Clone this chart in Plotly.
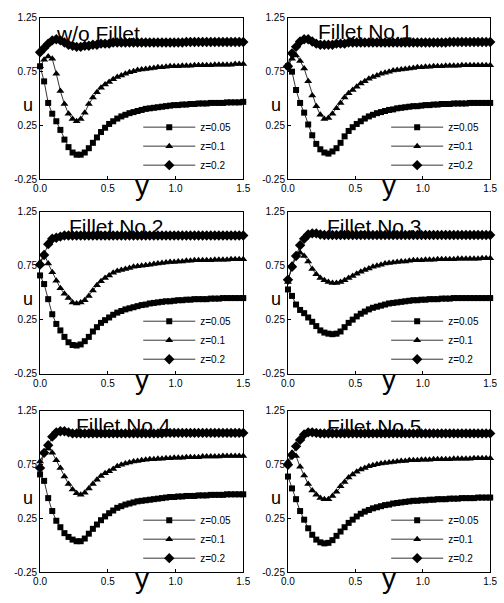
import plotly.graph_objects as go

# ---------------- data ----------------
y_grid = [0.00, 0.03, 0.06, 0.09, 0.12, 0.15, 0.18, 0.21, 0.24, 0.27,
          0.30, 0.33, 0.36, 0.39, 0.42, 0.45, 0.48, 0.51, 0.54, 0.57,
          0.60, 0.63, 0.66, 0.69, 0.72, 0.75, 0.78, 0.81, 0.84, 0.87,
          0.90, 0.93, 0.96, 0.99, 1.02, 1.05, 1.08, 1.11, 1.14, 1.17,
          1.20, 1.23, 1.26, 1.29, 1.32, 1.35, 1.38, 1.41, 1.44, 1.47, 1.50]

panel_titles = ["w/o Fillet", "Fillet No.1", "Fillet No.2",
                "Fillet No.3", "Fillet No.4", "Fillet No.5"]
series_names = ["z=0.05", "z=0.1", "z=0.2"]
x_tick_vals = [0.0, 0.5, 1.0, 1.5]
x_tick_text = ["0.0", "0.5", "1.0", "1.5"]
u_tick_vals = [-0.25, 0.25, 0.75, 1.25]
u_tick_text = ["-0.25", "0.25", "0.75", "1.25"]

# w/o Fillet
p0_z005 = [0.80, 0.66, 0.46, 0.36, 0.29, 0.21, 0.12, 0.05, 0.00, -0.02,
           -0.02, 0.00, 0.04, 0.09, 0.14, 0.19, 0.23, 0.265, 0.29, 0.315,
           0.335, 0.35, 0.365, 0.375, 0.385, 0.395, 0.405, 0.41, 0.415, 0.42,
           0.425, 0.43, 0.435, 0.44, 0.44, 0.445, 0.445, 0.45, 0.45, 0.455,
           0.455, 0.455, 0.46, 0.46, 0.46, 0.46, 0.465, 0.465, 0.465, 0.465, 0.47]
p0_z01 = [0.80, 0.86, 0.89, 0.87, 0.73, 0.57, 0.45, 0.36, 0.31, 0.29,
          0.31, 0.37, 0.45, 0.51, 0.56, 0.60, 0.63, 0.655, 0.68, 0.70,
          0.715, 0.73, 0.745, 0.755, 0.765, 0.77, 0.775, 0.78, 0.785, 0.79,
          0.79, 0.795, 0.80, 0.80, 0.80, 0.805, 0.805, 0.805, 0.81, 0.81,
          0.81, 0.81, 0.81, 0.815, 0.815, 0.815, 0.815, 0.815, 0.82, 0.82, 0.82]
p0_z02 = [0.93, 0.97, 1.01, 1.04, 1.05, 1.04, 1.02, 1.00, 0.99, 0.98,
          0.98, 0.99, 0.99, 1.00, 1.00, 1.01, 1.01, 1.01, 1.02, 1.02,
          1.02, 1.02, 1.02, 1.02, 1.02, 1.02, 1.02, 1.02, 1.02, 1.02,
          1.02, 1.02, 1.02, 1.02, 1.02, 1.02, 1.025, 1.025, 1.025, 1.025,
          1.025, 1.025, 1.025, 1.025, 1.025, 1.025, 1.025, 1.025, 1.025, 1.025, 1.025]

# Fillet No.1
p1_z005 = [0.80, 0.75, 0.58, 0.46, 0.37, 0.26, 0.16, 0.08, 0.03, 0.00,
           -0.01, 0.01, 0.04, 0.09, 0.15, 0.20, 0.235, 0.265, 0.29, 0.315,
           0.335, 0.35, 0.365, 0.375, 0.385, 0.395, 0.40, 0.41, 0.415, 0.42,
           0.425, 0.43, 0.43, 0.435, 0.44, 0.44, 0.445, 0.445, 0.45, 0.45,
           0.45, 0.455, 0.455, 0.455, 0.455, 0.46, 0.46, 0.46, 0.46, 0.46, 0.46]
p1_z01 = [0.80, 0.87, 0.90, 0.85, 0.78, 0.66, 0.53, 0.43, 0.35, 0.31,
          0.32, 0.36, 0.41, 0.46, 0.51, 0.55, 0.58, 0.61, 0.64, 0.66,
          0.685, 0.70, 0.715, 0.73, 0.74, 0.75, 0.76, 0.765, 0.77, 0.775,
          0.78, 0.785, 0.79, 0.79, 0.795, 0.795, 0.80, 0.80, 0.80, 0.805,
          0.805, 0.805, 0.805, 0.81, 0.81, 0.81, 0.81, 0.81, 0.81, 0.81, 0.81]
p1_z02 = [0.80, 0.92, 0.98, 1.03, 1.05, 1.05, 1.03, 1.01, 1.00, 1.00,
          1.00, 1.00, 1.01, 1.01, 1.01, 1.02, 1.02, 1.02, 1.02, 1.02,
          1.02, 1.02, 1.02, 1.02, 1.02, 1.02, 1.02, 1.02, 1.02, 1.02,
          1.02, 1.02, 1.02, 1.02, 1.02, 1.02, 1.02, 1.02, 1.02, 1.02,
          1.025, 1.025, 1.025, 1.025, 1.025, 1.025, 1.025, 1.025, 1.025, 1.025, 1.025]

# Fillet No.2
p2_z005 = [0.66, 0.58, 0.44, 0.30, 0.21, 0.15, 0.09, 0.04, 0.015, 0.01,
           0.02, 0.05, 0.09, 0.14, 0.18, 0.22, 0.245, 0.27, 0.295, 0.315,
           0.33, 0.345, 0.355, 0.365, 0.375, 0.385, 0.39, 0.40, 0.405, 0.41,
           0.415, 0.42, 0.42, 0.425, 0.43, 0.43, 0.435, 0.435, 0.44, 0.44,
           0.44, 0.44, 0.445, 0.445, 0.445, 0.45, 0.45, 0.45, 0.45, 0.45, 0.45]
p2_z01 = [0.78, 0.86, 0.77, 0.69, 0.61, 0.54, 0.49, 0.45, 0.41, 0.40,
          0.41, 0.43, 0.47, 0.52, 0.57, 0.605, 0.635, 0.66, 0.685, 0.70,
          0.71, 0.72, 0.73, 0.74, 0.745, 0.75, 0.755, 0.76, 0.765, 0.77,
          0.775, 0.78, 0.785, 0.785, 0.79, 0.79, 0.795, 0.795, 0.80, 0.80,
          0.80, 0.80, 0.80, 0.805, 0.805, 0.805, 0.805, 0.81, 0.81, 0.81, 0.81]
p2_z02 = [0.76, 0.85, 0.95, 1.00, 1.01, 1.02, 1.03, 1.03, 1.03, 1.03,
          1.03, 1.03, 1.03, 1.03, 1.03, 1.03, 1.03, 1.03, 1.03, 1.03,
          1.03, 1.03, 1.03, 1.03, 1.03, 1.03, 1.03, 1.03, 1.03, 1.03,
          1.03, 1.03, 1.03, 1.03, 1.03, 1.03, 1.03, 1.03, 1.03, 1.03,
          1.03, 1.03, 1.03, 1.03, 1.03, 1.03, 1.03, 1.03, 1.03, 1.03, 1.03]

# Fillet No.3
p3_z005 = [0.53, 0.47, 0.39, 0.34, 0.31, 0.27, 0.23, 0.19, 0.15, 0.13,
           0.12, 0.115, 0.12, 0.14, 0.18, 0.22, 0.25, 0.28, 0.305, 0.325,
           0.345, 0.36, 0.37, 0.38, 0.39, 0.40, 0.405, 0.41, 0.415, 0.42,
           0.425, 0.43, 0.43, 0.435, 0.435, 0.44, 0.44, 0.44, 0.445, 0.445,
           0.445, 0.45, 0.45, 0.45, 0.45, 0.45, 0.45, 0.45, 0.45, 0.45, 0.45]
p3_z01 = [0.60, 0.76, 0.85, 0.87, 0.84, 0.79, 0.72, 0.67, 0.635, 0.615,
          0.60, 0.59, 0.59, 0.60, 0.615, 0.635, 0.655, 0.675, 0.695, 0.71,
          0.725, 0.74, 0.75, 0.76, 0.77, 0.775, 0.78, 0.785, 0.79, 0.79,
          0.795, 0.80, 0.80, 0.80, 0.805, 0.805, 0.805, 0.81, 0.81, 0.81,
          0.81, 0.81, 0.815, 0.815, 0.815, 0.815, 0.815, 0.815, 0.82, 0.82, 0.82]
p3_z02 = [0.62, 0.74, 0.84, 0.94, 1.00, 1.04, 1.05, 1.05, 1.04, 1.035,
          1.035, 1.035, 1.035, 1.035, 1.035, 1.035, 1.035, 1.035, 1.035, 1.035,
          1.035, 1.035, 1.035, 1.035, 1.035, 1.035, 1.035, 1.035, 1.035, 1.035,
          1.035, 1.035, 1.035, 1.035, 1.035, 1.035, 1.035, 1.035, 1.035, 1.035,
          1.035, 1.035, 1.035, 1.035, 1.035, 1.035, 1.035, 1.035, 1.035, 1.035, 1.035]

# Fillet No.4
p4_z005 = [0.66, 0.60, 0.44, 0.32, 0.23, 0.17, 0.115, 0.08, 0.055, 0.04,
           0.04, 0.065, 0.11, 0.155, 0.195, 0.235, 0.27, 0.30, 0.325, 0.35,
           0.365, 0.38, 0.39, 0.40, 0.41, 0.415, 0.42, 0.425, 0.43, 0.435,
           0.44, 0.445, 0.45, 0.45, 0.455, 0.455, 0.46, 0.46, 0.46, 0.465,
           0.465, 0.465, 0.47, 0.47, 0.47, 0.47, 0.475, 0.475, 0.475, 0.475, 0.475]
p4_z01 = [0.78, 0.86, 0.90, 0.86, 0.79, 0.72, 0.64, 0.57, 0.52, 0.485,
          0.47, 0.49, 0.53, 0.57, 0.61, 0.645, 0.67, 0.69, 0.71, 0.735,
          0.75, 0.76, 0.77, 0.78, 0.785, 0.79, 0.795, 0.80, 0.80, 0.805,
          0.805, 0.81, 0.81, 0.815, 0.815, 0.815, 0.82, 0.82, 0.82, 0.82,
          0.825, 0.825, 0.825, 0.825, 0.825, 0.83, 0.83, 0.83, 0.83, 0.83, 0.83]
p4_z02 = [0.72, 0.86, 0.93, 1.01, 1.05, 1.06, 1.06, 1.05, 1.04, 1.04,
          1.04, 1.04, 1.04, 1.04, 1.04, 1.04, 1.04, 1.04, 1.04, 1.04,
          1.04, 1.04, 1.04, 1.04, 1.04, 1.04, 1.04, 1.04, 1.04, 1.04,
          1.04, 1.045, 1.045, 1.045, 1.045, 1.045, 1.045, 1.045, 1.045, 1.045,
          1.045, 1.045, 1.045, 1.045, 1.045, 1.045, 1.045, 1.045, 1.045, 1.045, 1.045]

# Fillet No.5
p5_z005 = [0.64, 0.53, 0.43, 0.32, 0.24, 0.16, 0.10, 0.055, 0.03, 0.02,
           0.025, 0.05, 0.09, 0.13, 0.17, 0.21, 0.24, 0.27, 0.295, 0.315,
           0.33, 0.345, 0.355, 0.365, 0.375, 0.38, 0.39, 0.395, 0.40, 0.405,
           0.41, 0.415, 0.415, 0.42, 0.42, 0.425, 0.425, 0.43, 0.43, 0.43,
           0.435, 0.435, 0.435, 0.44, 0.44, 0.44, 0.44, 0.445, 0.445, 0.445, 0.445]
p5_z01 = [0.78, 0.86, 0.83, 0.73, 0.65, 0.57, 0.51, 0.47, 0.44, 0.43,
          0.43, 0.46, 0.50, 0.55, 0.59, 0.63, 0.66, 0.685, 0.705, 0.72,
          0.735, 0.745, 0.755, 0.76, 0.765, 0.77, 0.775, 0.78, 0.785, 0.785,
          0.79, 0.79, 0.79, 0.795, 0.795, 0.795, 0.80, 0.80, 0.80, 0.80,
          0.80, 0.805, 0.805, 0.805, 0.805, 0.805, 0.81, 0.81, 0.81, 0.81, 0.81]
p5_z02 = [0.75, 0.84, 0.92, 0.98, 1.03, 1.05, 1.05, 1.045, 1.04, 1.04,
          1.04, 1.04, 1.04, 1.04, 1.04, 1.04, 1.04, 1.04, 1.04, 1.04,
          1.04, 1.04, 1.04, 1.04, 1.04, 1.04, 1.04, 1.04, 1.04, 1.04,
          1.04, 1.04, 1.04, 1.04, 1.04, 1.04, 1.04, 1.04, 1.04, 1.04,
          1.04, 1.04, 1.04, 1.04, 1.04, 1.04, 1.04, 1.04, 1.04, 1.04, 1.04]

panel_series = [
    [p0_z005, p0_z01, p0_z02],
    [p1_z005, p1_z01, p1_z02],
    [p2_z005, p2_z01, p2_z02],
    [p3_z005, p3_z01, p3_z02],
    [p4_z005, p4_z01, p4_z02],
    [p5_z005, p5_z01, p5_z02],
]
for ser in panel_series:
    for s in ser:
        assert len(s) == len(y_grid), len(s)

# ---------------- styling ----------------
FONT = "Liberation Sans"
W, H = 504, 603
col_px = [(34, 243), (289, 497)]
row_px = [(12, 177), (210, 375), (413, 578)]
title_dx = [14, 29, 28, 38, 35, 38]
title_base = [23, 21, 22, 22, 22, 23]
symbols = [("square", 6), ("triangle-up", 7), ("diamond", 8)]

fig = go.Figure()
layout = dict(width=W, height=H, margin=dict(l=0, r=0, t=0, b=0),
              paper_bgcolor="white", plot_bgcolor="white", showlegend=True)
annotations = []

for p in range(6):
    r, c = divmod(p, 2)
    L, R = col_px[c]
    T, B = row_px[r]
    sfx = "" if p == 0 else str(p + 1)
    leg = "legend" + sfx
    for s in range(3):
        sym, size = symbols[s]
        fig.add_trace(go.Scatter(
            x=y_grid, y=panel_series[p][s], mode="lines+markers",
            name=series_names[s], legend=leg,
            xaxis="x" + sfx, yaxis="y" + sfx, cliponaxis=False,
            line=dict(color="black", width=0.8),
            marker=dict(symbol=sym, size=size, color="black", line=dict(width=0)),
        ))
    axis_common = dict(showline=True, mirror=True, linecolor="black", linewidth=1,
                       ticks="inside", ticklen=3, tickcolor="black",
                       showgrid=False, zeroline=False,
                       tickfont=dict(family=FONT, size=10, color="black"))
    layout["xaxis" + sfx] = dict(domain=[L / W, R / W], range=[0, 1.5],
                                 anchor="y" + sfx, tickvals=x_tick_vals,
                                 ticktext=x_tick_text, **axis_common)
    layout["yaxis" + sfx] = dict(domain=[1 - B / H, 1 - T / H], range=[-0.25, 1.25],
                                 anchor="x" + sfx, tickvals=u_tick_vals,
                                 ticktext=u_tick_text, **axis_common)
    layout[leg] = dict(x=(L + 101) / W, xanchor="left",
                       y=1 - (T + 131) / H, yanchor="middle",
                       bgcolor="rgba(0,0,0,0)", borderwidth=0,
                       font=dict(family=FONT, size=10, color="black"),
                       itemwidth=52, tracegroupgap=0)
    annotations.append(dict(text=panel_titles[p], xref="paper", yref="paper",
                            x=(L + title_dx[p]) / W, y=1 - (T + title_base[p] - 7.3) / H,
                            xanchor="left", yanchor="middle", showarrow=False,
                            font=dict(family=FONT, size=21, color="black")))
    annotations.append(dict(text="u", xref="paper", yref="paper",
                            x=(L - 12) / W, y=1 - (T + 89) / H,
                            xanchor="center", yanchor="middle", showarrow=False,
                            font=dict(family=FONT, size=18, color="black")))
    annotations.append(dict(text="y", xref="paper", yref="paper",
                            x=(L + R) / 2 / W, y=1 - (B + 6) / H,
                            xanchor="center", yanchor="middle", showarrow=False,
                            font=dict(family=FONT, size=28, color="black")))

layout["annotations"] = annotations
fig.update_layout(**layout)
fig.write_html("out.html")
